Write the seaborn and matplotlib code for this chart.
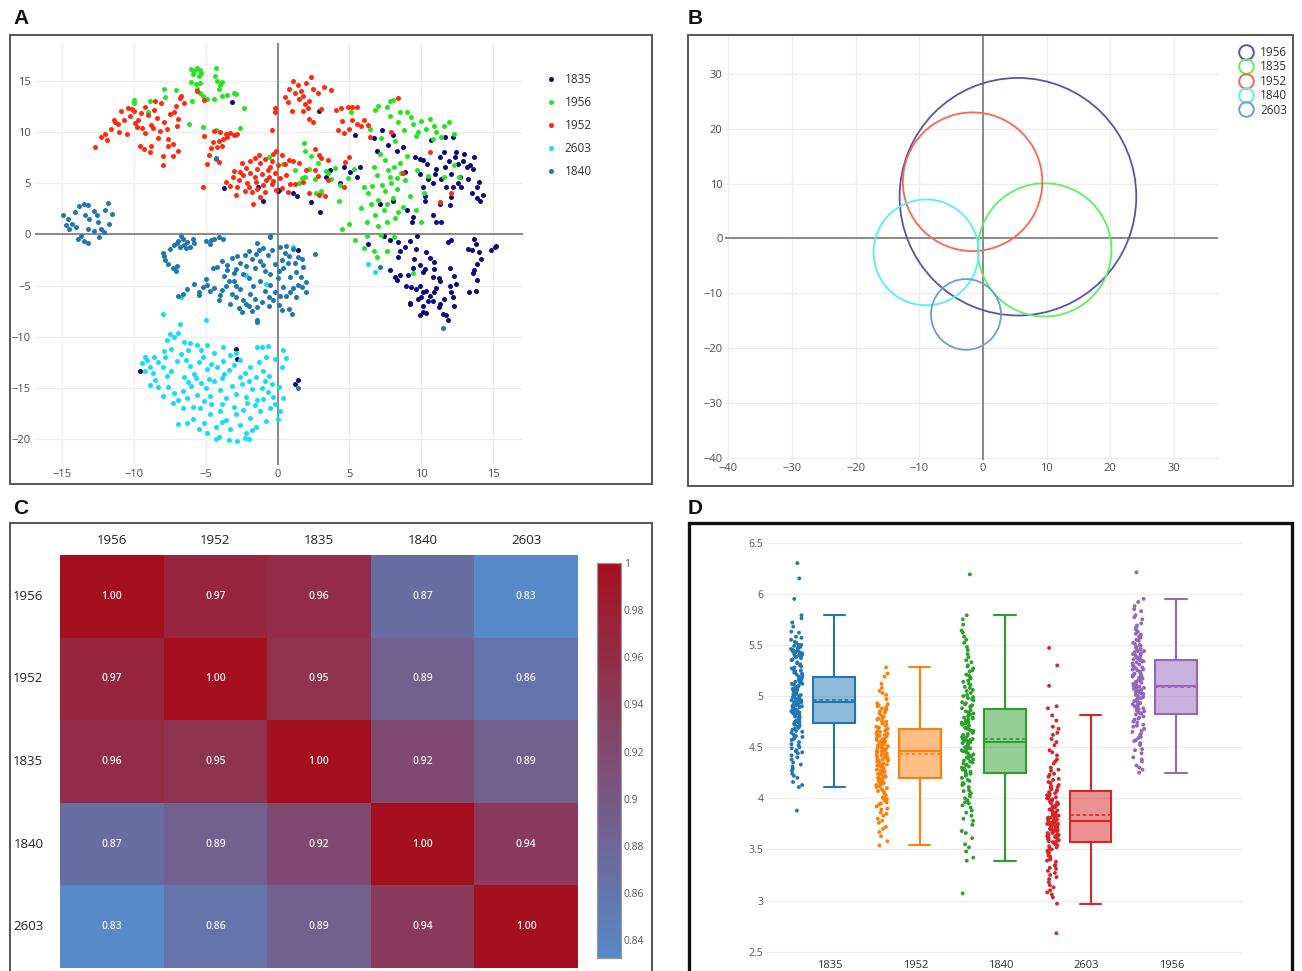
import numpy as np
import pandas as pd
import matplotlib
matplotlib.use("Agg")
import matplotlib.pyplot as plt
from matplotlib.patches import Rectangle, Ellipse
from matplotlib.lines import Line2D
from matplotlib.colors import LinearSegmentedColormap, to_rgba
import seaborn as sns

# ---------------- DATA ----------------
# Panel A: t-SNE style embedding, one list of (x, y) per sample
a_labels = ["1835", "1956", "1952", "2603", "1840"]
a_colors = ["#0c0c82", "#22e622", "#ff2a10", "#14dcfa", "#1f77b4"]

pts_1835 = [
    (2.85, 12.1), (5.4, 9.7), (6.7, 9.4), (6.9, 8.2), (7.7, 8.7), (8.3, 8.2), (8.75, 8.55), (8.05, 9.7),
    (7.25, 10.2), (9.55, 7.6), (10.1, 7.25), (10.4, 6.9), (10.7, 9.2), (11.65, 9.5), (12.45, 8.05),
    (12.35, 7.6), (11.3, 7.6), (11.65, 6.6), (12.55, 6.9), (13.15, 6.6), (13.7, 7.6), (13.4, 6.8),
    (13.6, 6.4), (12.7, 5.6), (13.25, 5.45), (13.85, 4.6), (14.1, 3.3), (12.2, 4.6), (12.1, 3.7),
    (12.0, 2.85), (10.95, 5.9), (11.4, 5.45), (10.85, 5.0), (10.1, 4.6), (10.25, 3.3), (10.85, 1.9),
    (11.05, 1.2), (11.4, 1.2), (9.0, 2.35), (9.45, 1.7), (9.35, 1.2), (8.05, 3.3), (7.15, 3.0),
    (5.75, 6.6), (5.05, 6.1), (5.5, 5.6), (4.35, 5.0), (3.65, 6.3), (3.4, 5.6), (2.95, 2.2), (2.3, 3.2),
    (1.1, 4.0), (1.35, 3.8), (0.07, 4.3), (-1.0, 3.3), (4.6, 6.6), (12.1, 5.95), (12.8, 4.6),
    (10.25, 3.8), (11.3, 3.0), (11.75, 4.6), (12.55, 5.0), (9.9, 7.4), (12.2, 9.5), (-3.15, 12.95),
    (-3.7, 4.5), (-1.35, 4.6), (0.05, 4.25), (13.0, 7.9), (14.0, 5.1), (13.5, 4.0), (11.0, 6.4),
    (10.5, 5.4), (9.9, 5.9), (11.9, 7.2), (12.9, 7.2), (8.9, 6.1), (14.3, 3.9), (13.9, 3.6), (11.6, 8.1),
    (6.3, -0.9), (7.4, -0.2), (7.8, -0.56), (8.4, -0.7), (8.5, -1.6), (8.35, -2.2), (8.85, -1.2),
    (9.2, -0.6), (9.7, -0.2), (9.65, -1.4), (9.5, -2.4), (10.35, -1.7), (9.9, -3.0), (10.1, -3.7),
    (10.9, -2.7), (10.8, -4.2), (11.2, -4.3), (7.8, -3.5), (8.5, -4.0), (8.3, -4.5), (8.95, -5.0),
    (9.3, -5.1), (9.65, -5.3), (9.9, -5.0), (10.1, -5.6), (10.35, -5.5), (10.6, -6.0), (10.9, -5.6),
    (9.75, -6.3), (9.2, -6.8), (10.1, -7.0), (10.5, -6.5), (10.8, -6.5), (9.9, -7.9), (10.1, -7.6),
    (10.35, -7.7), (11.2, -7.1), (11.3, -6.8), (11.5, -7.8), (11.85, -8.4), (11.7, -7.9), (12.0, -5.0),
    (12.1, -5.6), (12.2, -6.1), (12.3, -6.95), (12.4, -4.8), (11.85, -0.7), (12.1, -0.56), (12.0, -3.3),
    (13.25, -1.4), (13.5, -1.5), (13.7, -0.4), (13.8, -0.9), (14.05, -1.7), (14.15, -2.4), (13.9, -2.85),
    (13.7, -3.5), (13.6, -3.8), (13.9, -4.5), (13.8, -5.5), (13.35, -5.6), (14.85, -1.5), (15.1, -1.2),
    (15.2, -1.1), (10.9, -3.4), (11.3, -4.6), (10.25, -3.35), (8.2, -4.2), (9.1, -4.0), (9.2, -6.7),
    (10.0, -6.1), (11.0, -5.2), (11.6, -6.3), (12.3, -4.1), (9.4, -3.3), (10.6, -2.3),
    (-9.6, -13.4), (-2.9, -11.2), (-2.8, -12.2), (1.2, -14.6), (1.4, -14.2), (1.4, -1.5),
]
pts_1956 = [
    (-10.0, 13.1), (-10.0, 12.8), (-9.05, 12.0), (-8.9, 13.0), (-7.9, 14.25), (-7.8, 13.4), (-7.1, 14.1),
    (-6.0, 16.2), (-5.8, 16.0), (-5.6, 16.3), (-5.4, 16.1), (-5.9, 15.7), (-5.5, 15.5), (-5.3, 15.8),
    (-6.0, 14.9), (-5.7, 14.7), (-5.4, 14.8), (-5.6, 14.2), (-5.4, 13.8), (-6.15, 10.8), (-5.95, 13.0),
    (-5.2, 10.5), (-4.3, 16.3), (-4.35, 15.5), (-4.2, 15.0), (-4.0, 14.6), (-3.9, 14.9), (-4.1, 14.2),
    (-4.4, 13.2), (-3.85, 13.5), (-3.0, 13.8), (-2.9, 13.7), (-2.35, 12.4), (-2.6, 10.4), (-4.3, 10.2),
    (-4.9, 13.2), (-5.2, 13.5), (-3.5, 13.6),
    (5.1, 12.0), (6.8, 12.2), (7.0, 12.6), (7.6, 12.5), (7.8, 13.0), (8.0, 13.1), (7.8, 11.6), (8.5, 12.0),
    (9.0, 12.0), (8.4, 11.0), (9.4, 10.8), (10.0, 11.1), (10.6, 11.3), (9.8, 10.0), (10.3, 10.3),
    (11.0, 10.0), (11.6, 10.6), (11.9, 11.0), (12.3, 9.8), (8.8, 10.2), (9.6, 9.6), (10.8, 9.3),
    (11.4, 9.5), (7.5, 7.3), (8.5, 7.0), (8.6, 6.0), (7.8, 5.6), (8.9, 5.3), (7.3, 4.8), (7.9, 5.0),
    (6.0, 4.6), (6.6, 4.7), (8.3, 4.4), (8.0, 3.6), (9.2, 3.8), (6.5, 3.0), (7.0, 3.4), (7.4, 2.4),
    (7.6, 1.2), (8.2, 1.6), (8.7, 2.7), (9.6, 2.4), (10.0, 1.2), (6.8, 1.9), (7.0, 0.8), (5.0, 1.0),
    (4.5, 0.5), (5.8, 2.6), (6.3, 4.0), (10.2, 4.0), (10.5, 5.7), (11.6, 5.6), (12.3, 6.8), (12.6, 5.6),
    (9.7, 6.3), (9.0, 7.7), (3.5, 6.0), (4.0, 6.5), (4.9, 5.5), (5.3, 6.4), (2.2, 6.4), (2.8, 7.0),
    (1.9, 5.6), (1.5, 5.0), (2.6, 5.4), (3.0, 4.2), (4.3, 3.3), (1.85, 8.9), (1.9, 8.2), (2.3, 7.7),
    (1.2, 6.3), (1.7, 5.5), (2.7, 4.0), (3.0, 4.0), (4.35, 4.8), (3.4, 6.2), (3.7, 5.4), (-0.6, 7.6),
    (0.4, 6.9), (7.2, 9.4), (8.2, 9.1), (6.4, 10.3), (7.1, 7.9), (8.1, 6.6), (6.9, 5.8), (7.5, 4.2),
    (6.2, 1.2), (7.7, 6.3), (8.3, 5.5), (7.6, 3.0), (8.4, 2.2), (6.7, 6.6), (9.3, 11.5), (10.9, 10.6),
    (6.0, -1.3), (6.7, -1.6), (6.9, -2.2), (7.65, -1.6), (9.4, -3.8), (5.4, -0.5), (6.2, -0.2),
    (7.2, -0.1), (8.1, -0.3),
]
pts_1952 = [
    (-12.7, 8.5), (-12.3, 9.5), (-11.9, 9.2), (-11.6, 10.3), (-11.3, 11.0), (-11.1, 10.8), (-10.9, 12.1),
    (-10.5, 9.8), (-10.3, 11.6), (-10.1, 12.3), (-10.0, 12.1), (-9.8, 10.5), (-9.7, 11.2), (-9.5, 11.9),
    (-9.4, 10.4), (-9.3, 8.3), (-9.2, 9.9), (-9.0, 11.7), (-8.9, 8.1), (-8.8, 10.7), (-8.6, 12.2),
    (-8.5, 13.0), (-8.4, 11.4), (-8.3, 9.4), (-8.2, 10.1), (-8.1, 12.8), (-8.0, 7.7), (-7.9, 11.0),
    (-7.7, 10.3), (-7.6, 8.6), (-7.5, 11.8), (-7.3, 8.8), (-7.2, 12.0), (-7.0, 10.6), (-6.9, 11.3),
    (-6.8, 13.3), (-6.7, 13.5), (-8.0, 6.8), (-7.3, 7.7), (-9.6, 8.6), (-10.7, 11.2), (-11.4, 11.2),
    (-8.8, 8.6), (-7.6, 9.3), (-6.9, 8.2), (-9.9, 10.9), (-10.4, 12.4), (-8.7, 10.4), (-12.0, 9.8),
    (-11.0, 10.0), (-7.1, 12.6), (-6.5, 12.8), (-9.2, 12.5), (-5.6, 14.0), (-5.1, 13.1),
    (-4.4, 10.1), (-4.0, 10.0), (-3.6, 9.8), (-3.3, 9.9), (-3.0, 9.7), (-2.8, 9.8), (-4.5, 9.0),
    (-4.1, 9.1), (-3.8, 9.3), (-4.6, 8.4), (-4.2, 8.5), (-3.9, 8.6), (-4.8, 7.8), (-4.3, 7.4),
    (-4.1, 7.1), (-4.9, 6.9), (-5.1, 9.6), (-3.5, 9.5),
    (-5.2, 4.6), (-3.6, 5.1), (-3.3, 4.7), (-2.9, 3.9), (-2.3, 4.2), (-2.1, 5.0), (-1.7, 3.0),
    (-1.4, 4.4), (-1.2, 3.7), (-0.8, 5.3), (-0.4, 4.9), (-2.6, 6.1), (-2.2, 6.5), (-1.9, 7.2),
    (-1.6, 7.5), (-1.2, 7.0), (-0.9, 7.4), (-0.5, 6.6), (-0.2, 6.0), (-2.7, 5.3), (-2.4, 5.8),
    (-1.6, 5.6), (-1.1, 5.9), (-0.7, 6.3), (-3.0, 6.2), (-3.1, 5.6), (-0.3, 7.9), (-0.1, 8.2),
    (0.3, 7.8), (0.5, 6.9), (0.8, 7.3), (0.2, 5.5), (0.6, 5.8), (0.9, 4.9), (0.3, 4.5), (-0.1, 4.3),
    (0.7, 4.1), (1.2, 4.9), (-1.9, 6.0), (-1.4, 6.4), (-0.6, 5.6), (-2.0, 4.6), (-1.0, 4.8), (0.0, 6.8),
    (-2.5, 7.0), (-1.3, 7.8), (-0.4, 7.2), (-1.8, 4.1), (-0.9, 4.1), (-2.8, 4.6), (-1.5, 5.1), (-0.3, 5.2),
    (-0.2, 12.0), (-0.15, 12.4), (0.5, 13.4), (0.7, 12.9), (1.0, 12.1), (0.8, 14.2), (1.1, 15.0),
    (1.4, 14.6), (1.6, 14.0), (1.8, 13.5), (2.0, 14.8), (2.2, 13.0), (2.3, 15.4), (2.5, 14.2),
    (1.5, 13.2), (1.9, 12.7), (2.1, 12.4), (3.2, 14.4), (3.7, 14.1), (1.8, 12.1), (2.5, 11.0),
    (2.2, 11.3), (-0.4, 10.2), (3.0, 12.3), (2.8, 13.8), (1.2, 13.8),
    (4.1, 12.2), (4.4, 12.4), (4.9, 12.5), (5.2, 12.5), (5.5, 12.5), (4.5, 11.1), (5.2, 11.2),
    (5.5, 10.8), (5.8, 10.6), (6.0, 11.2), (6.3, 10.7), (4.2, 10.2), (4.6, 9.9), (6.4, 9.5), (5.0, 10.3),
    (8.4, 13.3), (7.9, 10.0), (10.6, 8.1), (12.1, 4.0), (11.3, 3.2), (8.75, 6.0),
    (1.1, 7.2), (1.5, 7.0), (1.8, 5.1), (2.0, 6.3), (2.6, 6.3), (2.8, 5.7), (3.0, 7.5), (3.5, 7.3),
    (2.2, 4.0), (3.3, 3.8), (2.6, 8.3), (2.9, 7.8), (2.85, 3.9), (3.5, 5.3), (5.0, 7.6), (4.7, 7.1),
    (4.6, 4.6),
]
pts_2603 = [
    (-8.0, -7.8), (-6.8, -8.8), (-5.0, -8.4), (-7.5, -9.7), (-7.2, -10.0), (-6.9, -9.6), (-7.7, -10.3),
    (-6.5, -10.5), (-6.1, -10.6), (-5.6, -10.8), (-5.3, -11.3), (-4.9, -10.8), (-4.4, -11.6),
    (-3.8, -11.0), (-2.9, -11.6), (-1.4, -11.0), (-0.7, -10.9), (0.4, -11.3), (-9.4, -12.6),
    (-9.1, -12.3), (-8.9, -13.0), (-8.6, -12.0), (-8.3, -12.5), (-8.7, -13.5), (-9.2, -13.4),
    (-8.5, -14.2), (-8.9, -14.7), (-8.0, -13.0), (-7.8, -12.0), (-7.4, -13.4), (-7.0, -12.4),
    (-6.7, -11.7), (-6.4, -12.3), (-6.1, -12.9), (-5.8, -13.6), (-5.5, -12.5), (-5.2, -12.0),
    (-4.9, -13.2), (-4.6, -12.7), (-4.2, -13.0), (-3.8, -12.4), (-3.4, -13.3), (-3.0, -12.8),
    (-2.6, -12.3), (-2.3, -13.5), (-1.9, -13.0), (-1.5, -13.9), (-1.0, -13.4), (-0.6, -13.8),
    (-0.2, -12.2), (0.3, -13.0), (0.6, -12.1), (-7.6, -14.9), (-7.2, -15.5), (-6.9, -16.2),
    (-6.6, -15.3), (-6.3, -16.0), (-6.0, -14.8), (-5.6, -15.7), (-5.3, -14.5), (-5.0, -15.0),
    (-4.7, -15.8), (-4.4, -14.3), (-4.0, -15.2), (-3.6, -16.0), (-3.2, -14.8), (-2.9, -15.6),
    (-2.5, -14.6), (-2.2, -15.9), (-1.8, -15.1), (-1.4, -16.2), (-1.1, -15.0), (-0.7, -15.4),
    (-0.3, -15.9), (0.1, -14.9), (0.4, -16.0), (-6.6, -17.0), (-5.9, -18.0), (-5.4, -17.0),
    (-5.1, -18.4), (-4.7, -17.6), (-4.3, -18.8), (-4.0, -17.3), (-3.6, -18.1), (-3.3, -19.0),
    (-2.9, -17.6), (-2.6, -18.6), (-2.2, -19.4), (-1.9, -17.9), (-1.5, -18.8), (-1.2, -17.3),
    (-0.8, -18.2), (-0.5, -17.0), (-0.2, -16.6), (0.2, -17.3), (-4.9, -19.4), (-4.1, -19.8),
    (-3.4, -20.1), (-2.8, -20.2), (-2.3, -19.9), (-1.8, -19.1), (-6.9, -18.5), (-7.3, -16.5),
    (-8.0, -15.8), (-9.2, -12.0), (-3.9, -14.0), (-2.0, -14.3), (-5.7, -14.0), (-0.8, -12.0),
    (-1.1, -11.0), (-6.2, -11.3), (-4.6, -16.6), (-3.0, -16.9), (-1.6, -16.7), (-7.9, -11.4),
    (-5.1, -16.3), (-2.4, -17.2), (-0.9, -14.3), (-6.5, -13.9), (-3.3, -11.8), (-4.3, -20.0),
    (-7.4, -11.2), (-2.6, -13.9), (-8.3, -14.9), (-7.7, -13.8), (-6.2, -14.4), (-4.8, -14.1),
    (-3.7, -13.6), (-1.3, -12.5), (-0.4, -14.6), (-5.9, -16.9), (-3.9, -16.6), (-2.1, -16.5),
    (-6.3, -18.4), (-3.9, -18.3), (-1.0, -16.1), (0.0, -18.0), (-5.5, -19.0), (-2.0, -20.0),
    (6.3, -2.85), (6.8, -3.7), (-2.2, -4.0), (-6.7, -6.1), (-0.8, -4.8), (1.05, -1.2),
]
pts_1840 = [
    (-14.9, 1.9), (-14.6, 1.5), (-14.3, 1.0), (-14.5, 0.5), (-13.8, 2.8), (-13.5, 3.0), (-13.2, 2.9),
    (-13.4, 1.9), (-13.1, 1.5), (-12.8, 2.3), (-12.5, 1.2), (-12.3, 0.5), (-12.0, 2.4), (-11.8, 3.1),
    (-11.5, 2.0), (-11.7, 1.0), (-12.1, 0.2), (-12.8, 0.3), (-13.2, 0.5), (-13.7, -0.2), (-13.5, -0.6),
    (-13.2, -0.8), (-14.0, 0.7), (-14.7, 0.9), (-12.4, -0.3), (-13.9, -0.4), (-12.6, 1.9), (-14.1, 2.2),
    (-7.9, -2.1), (-7.8, -2.5), (-7.6, -2.9), (-7.3, -3.3), (-7.1, -3.6), (-7.0, -3.1), (-7.5, -1.4),
    (-7.2, -1.0), (-6.9, -0.6), (-6.6, -0.4), (-6.3, -0.7), (-6.1, -1.2), (-6.8, -1.2), (-7.0, -0.8),
    (-6.5, -1.0), (-5.8, -0.8), (-5.0, -0.6), (-4.7, -0.9), (-4.4, -0.4), (-4.1, -0.3), (-3.8, -0.4),
    (-4.6, -0.5), (-8.0, -1.8), (-6.4, -1.3), (-6.7, -0.2), (-5.9, -0.4),
    (-4.2, -3.2), (-3.9, -2.6), (-3.5, -3.0), (-3.2, -2.3), (-2.9, -3.4), (-2.6, -2.8), (-2.3, -2.0),
    (-2.0, -1.6), (-1.8, -2.4), (-1.5, -1.9), (-1.2, -2.6), (-1.0, -1.3), (-0.7, -2.0), (-0.4, -1.5),
    (-0.2, -2.9), (0.2, -1.2), (0.5, -1.8), (0.8, -2.1), (1.1, -1.4), (1.4, -2.2), (1.7, -2.4),
    (2.6, -1.9), (-1.4, -0.8), (-0.5, -0.2), (0.3, -2.5), (-3.0, -3.8), (-2.2, -3.1), (-1.6, -3.3),
    (-0.9, -3.6), (-0.5, -3.9), (0.0, -4.3), (0.4, -3.3), (0.9, -4.2), (1.3, -3.7), (-3.7, -4.1),
    (-3.4, -4.6), (-6.9, -6.0), (-6.6, -5.8), (-6.3, -5.3), (-5.8, -4.8), (-5.5, -5.6), (-5.2, -5.1),
    (-5.0, -4.4), (-4.9, -4.9), (-4.7, -5.5), (-4.4, -5.2), (-3.9, -5.4), (-3.6, -5.0), (-3.2, -5.8),
    (-2.9, -6.1), (-2.6, -5.3), (-2.4, -6.4), (-2.2, -6.8), (-1.9, -5.8), (-1.6, -6.3), (-1.4, -7.1),
    (-1.1, -6.6), (-0.9, -5.5), (-0.6, -6.1), (-0.3, -6.4), (0.1, -6.9), (0.3, -7.4), (0.6, -6.0),
    (0.9, -5.6), (1.1, -5.2), (1.4, -4.9), (1.7, -5.1), (2.0, -4.7), (1.3, -6.1), (0.8, -7.3),
    (1.0, -7.8), (-1.4, -8.4), (-1.4, -8.6), (-2.7, -7.2), (-2.5, -7.6), (-1.8, -7.5), (-2.0, -7.0),
    (-5.5, -5.9), (-4.1, -6.4), (-3.3, -6.8), (-4.0, -5.9), (-2.0, -4.3), (-1.2, -4.6), (-0.5, -4.9),
    (0.4, -5.1), (1.6, -4.2), (2.0, -5.6), (-3.0, -4.6), (-4.5, -3.3), (-1.0, -3.0), (0.1, -3.6),
    (-2.4, -3.9), (-0.2, -5.6), (1.8, -3.2), (-1.7, -5.0), (-3.5, -3.5), (0.7, -2.8),
    (-2.8, -2.1), (-1.3, -1.5), (0.6, -1.1), (-0.6, -7.0), (-2.9, -5.0), (0.2, -6.0), (1.2, -2.8),
    (7.1, -3.2), (11.5, -9.1), (-4.3, 7.5), (-0.5, -0.3), (1.4, -15.0),
]
a_points = [pts_1835, pts_1956, pts_1952, pts_2603, pts_1840]

# Panel B: circles (centre and radii in data units)
b_labels = ["1956", "1835", "1952", "1840", "2603"]
b_colors = ["#5b52b0", "#5ef05e", "#ff6450", "#55eefa", "#6b9fd4"]
b_cx = [5.5, 9.7, -1.63, -8.93, -2.67]
b_cy = [7.6, -2.1, 10.33, -2.55, -13.86]
b_rx = [18.6, 10.5, 10.96, 8.26, 5.5]
b_ry = [21.65, 12.15, 12.64, 9.65, 6.45]

# Panel C: correlation matrix
c_labels = ["1956", "1952", "1835", "1840", "2603"]
c_values = [
    [1.00, 0.97, 0.96, 0.87, 0.83],
    [0.97, 1.00, 0.95, 0.89, 0.86],
    [0.96, 0.95, 1.00, 0.92, 0.89],
    [0.87, 0.89, 0.92, 1.00, 0.94],
    [0.83, 0.86, 0.89, 0.94, 1.00],
]
c_ticks = [0.84, 0.86, 0.88, 0.90, 0.92, 0.94, 0.96, 0.98, 1.00]

# Panel D: box plots with all points
d_labels = ["1835", "1952", "1840", "2603", "1956"]
d_colors = ["#1f77b4", "#ff7f0e", "#2ca02c", "#d62728", "#9467bd"]
d_q1 = [4.74, 4.195, 4.25, 3.576, 4.82]
d_med = [4.945, 4.46, 4.55, 3.78, 5.10]
d_q3 = [5.19, 4.68, 4.87, 4.075, 5.35]
d_lo = [4.11, 3.54, 3.39, 2.97, 4.25]
d_hi = [5.79, 5.28, 5.79, 4.81, 5.95]
d_mean = [4.96, 4.43, 4.58, 3.84, 5.085]
vals_1835 = [6.30, 6.15, 5.95, 3.88, 5.79, 5.76, 5.72, 5.68, 5.63, 5.58, 5.55, 5.52, 5.50, 5.49, 5.48,
             5.47, 5.46, 5.45, 5.44, 5.43, 5.41, 5.40, 5.38, 5.36, 5.33, 5.30, 5.28, 5.26, 5.24, 5.22,
             5.20, 5.19, 5.17, 5.15, 5.14, 5.12, 5.10, 5.09, 5.07, 5.05, 5.03, 5.02, 5.00, 4.99, 4.97,
             4.96, 4.95, 4.94, 4.92, 4.91, 4.89, 4.88, 4.86, 4.85, 4.83, 4.82, 4.80, 4.79, 4.77, 4.76,
             4.75, 4.74, 4.72, 4.70, 4.68, 4.66, 4.64, 4.62, 4.60, 4.58, 4.55, 4.52, 4.50, 4.47, 4.44,
             4.42, 4.38, 4.35, 4.31, 4.27, 4.24, 4.20, 4.16, 4.13, 4.11, 5.06, 4.98, 5.11, 4.90, 5.25,
             4.84, 4.93, 5.01, 4.71, 5.16, 5.42, 5.47, 5.39, 5.08, 4.87,
             5.45, 5.43, 5.48, 5.41, 5.37, 5.32, 5.27, 5.21, 5.18, 5.13, 5.09, 5.04, 5.02, 4.99, 4.96,
             4.94, 4.92, 4.90, 4.87, 4.85, 4.83, 4.81, 4.78, 4.76, 4.73, 4.69, 4.65, 4.61, 4.57, 4.53,
             4.49, 4.45, 4.40, 4.33, 4.29, 4.22, 5.62, 5.57, 5.53, 5.35, 5.29, 5.23, 5.15, 5.07, 5.00,
             4.95, 4.89, 4.80, 4.74, 4.67, 4.59, 4.46, 5.50, 5.44, 5.39, 5.31, 5.12, 4.98, 4.91, 4.86]
vals_1952 = [5.28, 5.22, 5.19, 5.08, 5.05, 5.01, 4.97, 4.93, 4.91, 4.89, 4.87, 4.85, 4.83, 4.81, 4.79,
             4.77, 4.75, 4.73, 4.71, 4.69, 4.68, 4.66, 4.65, 4.63, 4.62, 4.60, 4.59, 4.57, 4.56, 4.55,
             4.53, 4.52, 4.51, 4.49, 4.48, 4.47, 4.46, 4.45, 4.44, 4.42, 4.41, 4.39, 4.38, 4.36, 4.35,
             4.33, 4.32, 4.30, 4.29, 4.27, 4.26, 4.24, 4.23, 4.21, 4.20, 4.19, 4.17, 4.15, 4.13, 4.11,
             4.09, 4.07, 4.05, 4.03, 4.00, 3.98, 3.95, 3.92, 3.89, 3.86, 3.83, 3.80, 3.76, 3.72, 3.67,
             3.63, 3.58, 3.54, 4.50, 4.40, 4.58, 4.34, 4.64, 4.25, 4.70, 4.16, 4.54, 4.43, 4.61, 4.37,
             4.92, 4.88, 4.84, 4.80, 4.76, 4.72, 4.69, 4.67, 4.64, 4.61, 4.58, 4.56, 4.53, 4.50, 4.48,
             4.46, 4.44, 4.42, 4.40, 4.37, 4.35, 4.33, 4.31, 4.28, 4.26, 4.24, 4.22, 4.19, 4.17, 4.14,
             4.12, 4.10, 4.06, 4.02, 3.99, 3.94, 3.90, 3.85, 3.78, 3.70, 4.90, 4.86, 4.78, 4.74, 4.66,
             4.62, 4.57, 4.52, 4.47, 4.43, 4.38, 4.32, 4.27, 4.21, 4.15, 4.08, 4.01, 3.96, 5.12, 5.03]
vals_1840 = [6.19, 3.07, 5.79, 5.75, 5.70, 5.64, 5.58, 5.52, 5.45, 5.38, 5.33, 5.29, 5.25, 5.21, 5.18,
             5.15, 5.12, 5.09, 5.06, 5.03, 5.00, 4.98, 4.96, 4.94, 4.92, 4.90, 4.88, 4.86, 4.84, 4.82,
             4.80, 4.78, 4.76, 4.74, 4.72, 4.70, 4.68, 4.66, 4.64, 4.62, 4.60, 4.58, 4.56, 4.55, 4.53,
             4.51, 4.49, 4.47, 4.45, 4.43, 4.41, 4.39, 4.37, 4.35, 4.33, 4.31, 4.29, 4.27, 4.25, 4.23,
             4.20, 4.17, 4.14, 4.11, 4.08, 4.04, 4.00, 3.96, 3.91, 3.86, 3.80, 3.74, 3.68, 3.61, 3.55,
             3.48, 3.42, 3.39, 4.57, 4.48, 4.65, 4.36, 4.75, 4.28, 4.85, 4.52, 4.69, 4.44, 4.79, 4.61,
             5.30, 5.24, 5.17, 5.11, 5.05, 5.01, 4.97, 4.93, 4.89, 4.83, 4.79, 4.77, 4.73, 4.71, 4.67,
             4.63, 4.59, 4.56, 4.54, 4.50, 4.46, 4.42, 4.38, 4.34, 4.30, 4.26, 4.22, 4.18, 4.13, 4.07,
             4.02, 3.95, 3.88, 3.78, 3.66, 3.52, 5.48, 5.41, 5.35, 5.27, 5.20, 5.14, 5.08, 4.99, 4.91,
             4.81, 4.74, 4.66, 4.58, 4.49, 4.40, 4.32, 4.24, 4.15, 4.05, 3.98, 3.93, 3.83, 5.55, 5.62]
vals_2603 = [5.47, 5.30, 5.10, 2.68, 4.90, 4.88, 4.81, 4.76, 4.70, 4.64, 4.58, 4.52, 4.47, 4.42, 4.38,
             4.34, 4.30, 4.27, 4.24, 4.21, 4.18, 4.15, 4.12, 4.10, 4.08, 4.06, 4.04, 4.02, 4.00, 3.98,
             3.96, 3.94, 3.92, 3.90, 3.88, 3.86, 3.84, 3.82, 3.80, 3.79, 3.78, 3.77, 3.75, 3.74, 3.72,
             3.71, 3.69, 3.68, 3.66, 3.65, 3.63, 3.62, 3.60, 3.58, 3.57, 3.55, 3.53, 3.51, 3.49, 3.47,
             3.44, 3.41, 3.38, 3.35, 3.31, 3.27, 3.23, 3.18, 3.13, 3.08, 3.03, 2.97, 3.83, 3.76, 3.89,
             3.70, 3.95, 3.64, 4.01, 3.59, 3.73, 3.81, 3.67, 3.92, 3.56, 4.05, 3.85, 3.61,
             4.28, 4.23, 4.19, 4.16, 4.13, 4.09, 4.07, 4.03, 3.99, 3.97, 3.93, 3.91, 3.87, 3.85, 3.83,
             3.81, 3.79, 3.77, 3.76, 3.74, 3.72, 3.70, 3.68, 3.66, 3.64, 3.62, 3.60, 3.58, 3.56, 3.54,
             3.52, 3.50, 3.46, 3.43, 3.39, 3.34, 3.29, 3.21, 3.15, 3.06, 4.36, 4.45, 4.62, 4.00, 3.95,
             3.89, 3.82, 3.75, 3.69, 3.63, 3.57, 3.48, 3.40, 3.32, 3.25, 3.10, 4.68, 4.55, 4.11, 3.86]
vals_1956 = [6.21, 5.95, 5.92, 5.88, 5.83, 5.79, 5.75, 5.71, 5.67, 5.63, 5.60, 5.57, 5.54, 5.51, 5.48,
             5.46, 5.44, 5.42, 5.40, 5.38, 5.36, 5.35, 5.33, 5.31, 5.29, 5.27, 5.25, 5.23, 5.21, 5.19,
             5.17, 5.15, 5.13, 5.11, 5.10, 5.09, 5.07, 5.05, 5.03, 5.01, 4.99, 4.97, 4.95, 4.93, 4.91,
             4.89, 4.87, 4.85, 4.83, 4.82, 4.80, 4.77, 4.74, 4.71, 4.68, 4.65, 4.62, 4.59, 4.56, 4.52,
             4.48, 4.44, 4.40, 4.36, 4.32, 4.28, 4.25, 5.12, 5.06, 5.18, 5.00, 5.24, 4.94, 5.30, 4.88,
             5.14, 5.04, 5.20, 4.98, 5.26, 4.90, 5.34, 5.08,
             5.69, 5.65, 5.61, 5.58, 5.55, 5.52, 5.49, 5.47, 5.45, 5.43, 5.41, 5.39, 5.37, 5.34, 5.32,
             5.28, 5.26, 5.22, 5.19, 5.16, 5.14, 5.11, 5.08, 5.05, 5.02, 4.99, 4.96, 4.93, 4.90, 4.86,
             4.83, 4.79, 4.75, 4.70, 4.66, 4.60, 4.54, 4.47, 4.38, 4.30, 5.85, 5.77, 5.50, 5.44, 5.36,
             5.27, 5.21, 5.12, 5.03, 4.97, 4.92, 4.84, 4.78, 4.72, 4.63, 4.57, 5.59, 5.40, 5.18, 5.09]
d_values = [vals_1835, vals_1952, vals_1840, vals_2603, vals_1956]

# ---------------- LAYOUT ----------------
W, H = 1302, 971
sns.set_theme(style="white")
plt.rcParams["font.family"] = ["Open Sans", "DejaVu Sans"]
plt.rcParams["axes.unicode_minus"] = True
np.random.seed(3)

fig = plt.figure(figsize=(W / 100, H / 100), dpi=100)


def frect(l, t, r, b):
    return [l / W, 1 - b / H, (r - l) / W, (b - t) / H]


def fbox(l, t, r, b, color, lw):
    fig.add_artist(Rectangle((l / W, 1 - b / H), (r - l) / W, (b - t) / H, transform=fig.transFigure,
                             fill=False, edgecolor=color, linewidth=lw, zorder=0))


fbox(10, 35.5, 652, 484, "#555555", 1.4)
fbox(688, 35.5, 1293, 486, "#555555", 1.4)
fbox(10, 522.5, 652, 975, "#555555", 1.4)
fbox(688.5, 522.5, 1292, 975, "#111111", 2.4)
for lab, (x, y) in zip("ABCD", [(21, 19), (695, 19), (21, 509), (695, 509)]):
    fig.text(x / W, 1 - y / H, lab, ha="center", va="center", fontsize=15, fontweight="bold",
             family=["Liberation Sans", "DejaVu Sans"], color="#111111")

tick_col = "#4a4a4a"
grid_col = "#ececec"
zero_col = "#8a8a8a"

# ---------------- Panel A ----------------
axA = fig.add_axes(frect(35, 43, 523, 465))
frames = []
for lab, pts in zip(a_labels, a_points):
    arr = np.array(pts)
    frames.append(pd.DataFrame({"x": arr[:, 0], "y": arr[:, 1], "group": lab}))
dfA = pd.concat(frames, ignore_index=True)
for lab, col in zip(a_labels, a_colors):
    sub = dfA[dfA["group"] == lab]
    sns.scatterplot(data=sub, x="x", y="y", color=col, s=13, linewidth=0, ax=axA, legend=False, zorder=3)
axA.set_xlim(-16.88, 17.08)
axA.set_ylim(-22.54, 18.71)
axA.set_xticks(range(-15, 16, 5))
axA.set_yticks(range(-20, 16, 5))
axA.grid(True, color=grid_col, linewidth=0.9)
axA.axhline(0, color=zero_col, lw=1.4, zorder=2)
axA.axvline(0, color=zero_col, lw=1.4, zorder=2)
axA.set_xlabel("")
axA.set_ylabel("")
for s in axA.spines.values():
    s.set_visible(False)
axA.tick_params(length=0, labelsize=8, labelcolor=tick_col, pad=3)
handlesA = [Line2D([], [], ls="", marker="o", markersize=3.6, markeredgewidth=0, color=c) for c in a_colors]
axA.legend(handlesA, a_labels, loc="upper left", bbox_to_anchor=(540 / W, 1 - 67 / H),
           bbox_transform=fig.transFigure, frameon=False, fontsize=8.5, labelspacing=0.85,
           handlelength=0.9, handletextpad=0.7, borderpad=0, labelcolor="#333333")

# ---------------- Panel B ----------------
axB = fig.add_axes(frect(725.3, 36, 1217.7, 460))
axB.set_xlim(-40.5, 36.9)
axB.set_ylim(-40.4, 36.9)
for cx, cy, rx, ry, col in zip(b_cx, b_cy, b_rx, b_ry, b_colors):
    axB.add_patch(Ellipse((cx, cy), 2 * rx, 2 * ry, fill=False, edgecolor=col, linewidth=1.3, zorder=3))
axB.set_xticks(range(-40, 31, 10))
axB.set_yticks(range(-40, 31, 10))
axB.grid(True, color=grid_col, linewidth=0.9)
axB.axhline(0, color=zero_col, lw=1.4, zorder=2)
axB.axvline(0, color=zero_col, lw=1.4, zorder=2)
for s in axB.spines.values():
    s.set_visible(False)
axB.tick_params(length=0, labelsize=8, labelcolor=tick_col, pad=2)
handlesB = [Line2D([], [], ls="", marker="o", markersize=10.5, markerfacecolor="none",
                   markeredgewidth=1.4, markeredgecolor=c) for c in b_colors]
axB.legend(handlesB, b_labels, loc="upper left", bbox_to_anchor=(1234 / W, 1 - 40 / H),
           bbox_transform=fig.transFigure, frameon=False, fontsize=8.5, labelspacing=0.12,
           handlelength=1.1, handletextpad=0.6, borderpad=0, labelcolor="#333333")

# ---------------- Panel C ----------------
axC = fig.add_axes(frect(60, 555, 578, 968))
caxC = fig.add_axes(frect(597, 563, 621, 958))
dfC = pd.DataFrame(c_values, index=c_labels, columns=c_labels)
cmapC = LinearSegmentedColormap.from_list("bluered", ["#5889c8", "#a5101f"])
sns.heatmap(dfC, ax=axC, cbar_ax=caxC, cmap=cmapC, vmin=0.8325, vmax=1.0, annot=True, fmt=".2f",
            annot_kws={"fontsize": 7.5, "fontweight": "semibold", "color": "#eeeeee"}, linewidths=0)
axC.xaxis.tick_top()
axC.tick_params(length=0, labelsize=9.5, labelcolor="#222222")
axC.tick_params(axis="x", pad=6)
axC.tick_params(axis="y", pad=12)
axC.set_yticklabels(c_labels, rotation=0)
axC.set_xticklabels(c_labels, rotation=0)
axC.set_xlabel("")
axC.set_ylabel("")
caxC.set_yticks(c_ticks)
caxC.set_yticklabels([f"{t:g}" for t in c_ticks])
caxC.tick_params(length=0, labelsize=7.5, labelcolor="#555555", pad=2)
for s in caxC.spines.values():
    s.set_visible(True)
    s.set_color("#999999")
    s.set_linewidth(0.8)

# ---------------- Panel D ----------------
axD = fig.add_axes(frect(766, 535, 1241.7, 952.7))
idx = np.arange(len(d_labels))
strip_rows = []
for i, (lab, vals) in enumerate(zip(d_labels, d_values)):
    for v in vals:
        strip_rows.append({"pos": i - 0.39, "val": v, "group": lab})
dfD = pd.DataFrame(strip_rows)
sns.stripplot(data=dfD, x="pos", y="val", hue="group", hue_order=d_labels, palette=d_colors,
              native_scale=True, jitter=0.07, size=2.8, linewidth=0, legend=False, ax=axD, zorder=3)
stats = []
for i in range(len(d_labels)):
    stats.append({"med": d_med[i], "q1": d_q1[i], "q3": d_q3[i], "whislo": d_lo[i],
                  "whishi": d_hi[i], "mean": d_mean[i], "fliers": []})
for i, col in enumerate(d_colors):
    axD.bxp([stats[i]], positions=[i + 0.05], widths=0.49, patch_artist=True, showmeans=True,
            meanline=True, showfliers=False, capwidths=0.25,
            boxprops=dict(facecolor=to_rgba(col, 0.5), edgecolor=col, linewidth=1.5),
            whiskerprops=dict(color=col, linewidth=1.5),
            capprops=dict(color=col, linewidth=1.5),
            medianprops=dict(color=col, linewidth=1.5),
            meanprops=dict(color=col, linewidth=1.2, linestyle=(0, (2.2, 1.6))),
            manage_ticks=False)
axD.set_xlim(-0.75, 4.82)
axD.set_ylim(2.49, 6.575)
axD.set_xticks(idx)
axD.set_xticklabels(d_labels)
axD.set_yticks([2.5, 3, 3.5, 4, 4.5, 5, 5.5, 6, 6.5])
axD.set_yticklabels(["2.5", "3", "3.5", "4", "4.5", "5", "5.5", "6", "6.5"])
axD.yaxis.grid(True, color=grid_col, linewidth=0.9)
axD.xaxis.grid(False)
axD.set_axisbelow(True)
axD.set_xlabel("")
axD.set_ylabel("")
for s in axD.spines.values():
    s.set_visible(False)
axD.tick_params(axis="y", length=0, labelsize=7.5, labelcolor="#555555", pad=2)
axD.tick_params(axis="x", length=0, labelsize=8, labelcolor="#333333", pad=5)

fig.savefig("out.png", dpi=100)
